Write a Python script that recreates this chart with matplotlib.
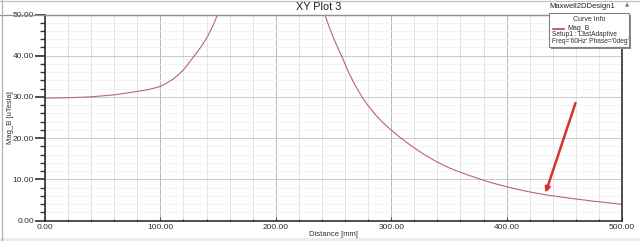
import numpy as np
import matplotlib
matplotlib.use('Agg')
import matplotlib.pyplot as plt
from matplotlib.patches import Rectangle
from matplotlib.lines import Line2D
from matplotlib.ticker import MultipleLocator, FormatStrFormatter

plt.rcParams['font.family'] = ['Liberation Sans', 'DejaVu Sans']

# curve: two branches, the part above 50 is clipped
left_dist = [0, 20, 39, 60, 79.4, 90, 99.6, 105, 111, 116, 119.8, 124, 128.4,
             133, 137, 141, 145.7, 148, 150, 152]
left_b = [29.7, 29.8, 30.0, 30.5, 31.3, 31.8, 32.5, 33.3, 34.3, 35.5, 36.5,
          38.0, 39.6, 41.3, 42.9, 44.7, 47.4, 48.9, 50.3, 51.8]
right_dist = [240, 242.4, 246, 249.6, 254, 258.3, 263, 268.4, 275.6, 281, 287.2,
              293, 300.2, 308, 316, 327, 339, 350, 359, 368, 384, 399.7, 417,
              434.4, 455, 474.8, 488, 500]
right_b = [52.0, 50.0, 47.2, 44.6, 41.7, 39.1, 36.0, 33.0, 29.6, 27.5, 25.4,
           23.7, 21.9, 20.1, 18.4, 16.3, 14.3, 12.8, 11.8, 10.9, 9.4, 8.2, 7.1,
           6.2, 5.4, 4.7, 4.3, 3.9]

x_ticks = [0, 100, 200, 300, 400, 500]
y_ticks = [0, 10, 20, 30, 40, 50]

# red annotation arrow (data coords)
arrow_tail = (459.7, 28.5)
arrow_head = (433.8, 6.75)

curve_color = '#b8666f'

fig = plt.figure(figsize=(6.4, 2.41), dpi=100)
fig.patch.set_facecolor('white')
ax = fig.add_axes([45 / 640, 1 - 220.5 / 241, (622 - 45) / 640, (220.5 - 14.5) / 241])

ax.plot(left_dist, left_b, color=curve_color, lw=0.8)
ax.plot(right_dist, right_b, color=curve_color, lw=0.8)

ax.set_xlim(0, 500)
ax.set_ylim(0, 50)
ax.set_xticks(x_ticks)
ax.set_yticks(y_ticks)
ax.xaxis.set_minor_locator(MultipleLocator(20))
ax.yaxis.set_minor_locator(MultipleLocator(2))
ax.xaxis.set_major_formatter(FormatStrFormatter('%.2f'))
ax.yaxis.set_major_formatter(FormatStrFormatter('%.2f'))

ax.grid(True, which='major', axis='x', color='#b8b8b8', lw=0.7)
ax.grid(True, which='minor', axis='x', color='#dedede', lw=0.6)
ax.grid(True, which='major', axis='y', color='#cacaca', lw=0.7)
ax.grid(True, which='minor', axis='y', color='#f1f1f1', lw=0.6)
ax.set_axisbelow(True)

ax.tick_params(axis='y', which='major', direction='out', length=7.2, width=1.2,
               color='#303030', labelsize=6, pad=0.8, labelcolor='#303030')
ax.tick_params(axis='y', which='minor', direction='out', length=3.6, width=1.0,
               color='#303030')
ax.tick_params(axis='x', which='major', direction='in', length=3, width=0.8,
               color='#505050', labelsize=6, pad=2.5, labelcolor='#303030')
ax.tick_params(axis='x', which='minor', direction='in', length=1.8, width=0.7,
               color='#505050')

for side in ['left', 'bottom', 'right']:
    ax.spines[side].set_color('#303030')
    ax.spines[side].set_linewidth(1.2)
ax.spines['top'].set_color('#909090')
ax.spines['top'].set_linewidth(0.9)

ax.set_xlabel('Distance [mm]', fontsize=5.5, labelpad=0.3, color='#303030')
ax.set_ylabel('Mag_B [uTesla]', fontsize=5.5, color='#303030')
ax.yaxis.set_label_coords(-31 / 577, 0.5)

ax.annotate('', xy=arrow_head, xytext=arrow_tail,
            arrowprops=dict(arrowstyle='-|>', color='#d6312e', lw=1.8,
                            mutation_scale=7, shrinkA=0, shrinkB=0))

# header / window frame
fig.text(319 / 640, 1 - 7 / 241, 'XY Plot 3', ha='center', va='center',
         fontsize=7.8, color='#202020')
fig.text(615 / 640, 1 - 6.5 / 241, 'Maxwell2DDesign1', ha='right', va='center',
         fontsize=5.5, color='#202020')
fig.text(627 / 640, 1 - 5 / 241, '▲', ha='center', va='center',
         fontsize=4, color='#b07070', family=['DejaVu Sans'])
fig.add_artist(Line2D([0, 549 / 640], [1 - 14.5 / 241] * 2, color='#909090', lw=0.9))
fig.add_artist(Line2D([2 / 640] * 2, [0, 1], color='#b0b0b0', lw=0.9))
fig.add_artist(Line2D([0, 1], [1 - 0.8 / 241] * 2, color='#c0c0c0', lw=0.9))
fig.add_artist(Rectangle((0, 0), 1, 3 / 241, transform=fig.transFigure,
                         facecolor='#ececec', edgecolor='none', zorder=0))

# curve info box
bx0, bx1 = 549 / 640, 629 / 640
by0, by1 = 1 - 47 / 241, 1 - 13 / 241
fig.add_artist(Rectangle((bx0 + 2 / 640, by0 - 2 / 241), bx1 - bx0, by1 - by0,
                         transform=fig.transFigure, facecolor='#8a8a8a',
                         edgecolor='none', zorder=5))
fig.add_artist(Rectangle((bx0, by0), bx1 - bx0, by1 - by0, transform=fig.transFigure,
                         facecolor='white', edgecolor='#808080', lw=0.8, zorder=6))
fig.text(589 / 640, 1 - 19.5 / 241, 'Curve Info', ha='center', va='center',
         fontsize=5, color='#303030', zorder=7)
fig.add_artist(Line2D([553 / 640, 564 / 640], [1 - 28.5 / 241] * 2,
                      color='#c84040', lw=1.2, zorder=7))
fig.text(567 / 640, 1 - 28.5 / 241, 'Mag_B', ha='left', va='center',
         fontsize=5, color='#303030', zorder=7)
fig.text(552 / 640, 1 - 35 / 241, 'Setup1 : LastAdaptive', ha='left', va='center',
         fontsize=4.8, color='#303030', zorder=7)
fig.text(552 / 640, 1 - 41.5 / 241, "Freq='60Hz' Phase='0deg'", ha='left', va='center',
         fontsize=4.8, color='#303030', zorder=7)

fig.savefig('out.png', dpi=100)
plt.close()
